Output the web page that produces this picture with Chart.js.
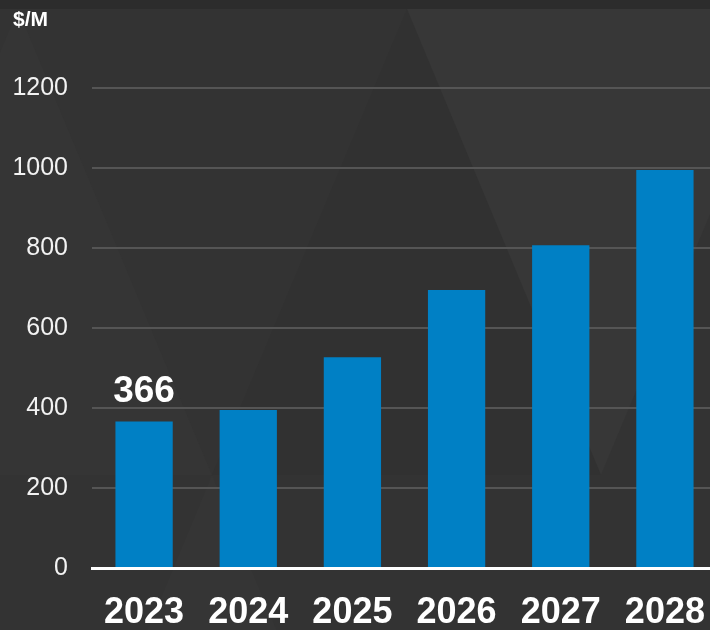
<!DOCTYPE html>
<html>
<head>
<meta charset="utf-8">
<script src="https://cdn.jsdelivr.net/npm/chart.js@4"></script>
<style>
  html, body { margin: 0; padding: 0; background: #333333; overflow: hidden; }
  #wrap { width: 710px; height: 630px; overflow: hidden; }
</style>
</head>
<body>
<!-- canvas is a few px wider than the page: the last bar's slot runs off the right edge -->
<div id="wrap"><canvas id="marketChart" width="717" height="630"></canvas></div>
<script>
// data
const years = ['2023', '2024', '2025', '2026', '2027', '2028'];
const marketSize = [366, 395, 527, 695, 807, 995];
const labelledIndex = [0];
const unitLabel = '$/M';

const barColor = '#0080c5';
const font = "'Liberation Sans', Arial, sans-serif";

// faint triangle pattern behind the chart
const backdrop = {
    id: 'backdrop',
    beforeDraw(chart) {
        const ctx = chart.ctx;
        const tri = (pts, color) => {
            ctx.beginPath();
            ctx.moveTo(pts[0][0], pts[0][1]);
            pts.slice(1).forEach(p => ctx.lineTo(p[0], p[1]));
            ctx.closePath();
            ctx.fillStyle = color;
            ctx.fill();
        };
        ctx.save();
        ctx.fillStyle = '#333333';
        ctx.fillRect(0, 0, chart.width, chart.height);
        tri([[18, 9], [-176, 475], [212, 475]], '#353535');
        tri([[407, 9], [212, 475], [601, 475]], '#313131');
        tri([[407, 9], [796, 9], [601, 475]], '#373737');
        tri([[212, 475], [18, 941], [406, 941]], '#353535');
        ctx.fillStyle = '#2c2c2c';
        ctx.fillRect(0, 0, chart.width, 9);
        ctx.restore();
    }
};

// unit caption and the value over the first bar
const annotations = {
    id: 'annotations',
    afterDatasetsDraw(chart) {
        const ctx = chart.ctx;
        ctx.save();
        ctx.fillStyle = '#ffffff';
        ctx.textBaseline = 'alphabetic';
        ctx.font = 'bold 21px ' + font;
        ctx.textAlign = 'left';
        ctx.fillText(unitLabel, 13, 26);
        const meta = chart.getDatasetMeta(0);
        ctx.font = 'bold 37px ' + font;
        ctx.textAlign = 'center';
        labelledIndex.forEach(i => {
            const bar = meta.data[i];
            ctx.fillText(String(marketSize[i]), bar.x, bar.y - 20);
        });
        ctx.restore();
    }
};

new Chart(document.getElementById('marketChart'), {
    type: 'bar',
    data: {
        labels: years,
        datasets: [{
            data: marketSize,
            backgroundColor: barColor,
            borderWidth: 0,
            categoryPercentage: 1,
            barPercentage: 0.55
        }]
    },
    options: {
        responsive: false,
        animation: false,
        layout: { padding: { top: 48, right: 0, left: 0, bottom: 0 } },
        plugins: {
            legend: { display: false },
            tooltip: { enabled: false }
        },
        scales: {
            x: {
                grid: { display: false, drawTicks: false },
                border: { color: '#ffffff', width: 3 },
                ticks: {
                    color: '#ffffff',
                    font: { family: font, size: 36, weight: 'bold' },
                    padding: 23,
                    maxRotation: 0
                },
                afterFit(scale) {
                    scale.height = 62;
                    scale.paddingLeft = 0;
                    scale.paddingRight = 0;
                }
            },
            y: {
                min: 0,
                max: 1300,
                grid: { color: '#555555', lineWidth: 2, drawTicks: false },
                border: { display: false },
                ticks: {
                    stepSize: 200,
                    color: '#f2f2f2',
                    font: { family: font, size: 25 },
                    padding: 24,
                    callback: v => String(v)
                },
                afterBuildTicks(scale) {
                    scale.ticks = scale.ticks.filter(t => t.value <= 1200);
                },
                afterFit(scale) {
                    scale.width = 92;
                    scale.paddingTop = 0;
                    scale.paddingBottom = 0;
                }
            }
        }
    },
    plugins: [backdrop, annotations]
});
</script>
</body>
</html>
